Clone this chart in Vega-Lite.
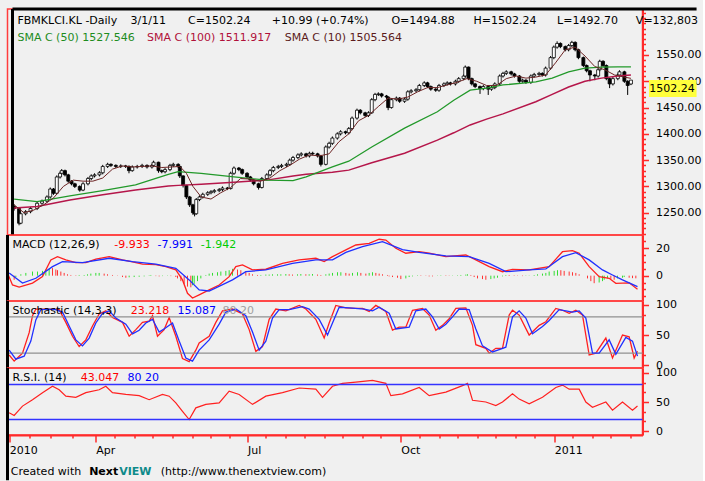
{
"$schema":"https://vega.github.io/schema/vega-lite/v6.json",
"background":"#f0f0f0",
"padding":{"left":4.5,"top":6,"right":0,"bottom":0},
"spacing":0,
"bounds":"flush",
"config":{
 "view":{"stroke":"#ff3c3c","strokeWidth":1.5},
 "text":{"font":"DejaVu Sans","fontSize":11,"align":"left","baseline":"middle"},
 "axis":{"labelFont":"DejaVu Sans","labelFontSize":11,"labelColor":"#000","domainColor":"#ff2a2a","tickColor":"#ff2a2a","domainWidth":2,"tickWidth":1.5,"grid":false,"title":null}
},
"datasets":{
"px":[
{"d":"2010-02-08","op":1262,"hi":1266,"lo":1254,"cl":1258,"hist":-2,"dir":"down"},
{"d":"2010-02-11","op":1258,"hi":1260,"lo":1226,"cl":1230,"hist":-3,"dir":"down"},
{"d":"2010-02-12","op":1230,"hi":1250,"lo":1228,"cl":1248,"hist":-1,"dir":"up"},
{"d":"2010-02-15","op":1248,"hi":1255,"lo":1245,"cl":1252,"hist":1,"dir":"up"},
{"d":"2010-02-18","op":1252,"hi":1261,"lo":1249,"cl":1258,"hist":2,"dir":"up"},
{"d":"2010-02-22","op":1258,"hi":1271,"lo":1255,"cl":1268,"hist":3,"dir":"up"},
{"d":"2010-02-25","op":1268,"hi":1275,"lo":1265,"cl":1272,"hist":3,"dir":"up"},
{"d":"2010-02-28","op":1272,"hi":1283,"lo":1269,"cl":1280,"hist":3.5,"dir":"up"},
{"d":"2010-03-02","op":1280,"hi":1298,"lo":1277,"cl":1295,"hist":4.5,"dir":"up"},
{"d":"2010-03-04","op":1295,"hi":1297,"lo":1284,"cl":1287,"hist":5,"dir":"up"},
{"d":"2010-03-06","op":1287,"hi":1321,"lo":1285,"cl":1318,"hist":5.5,"dir":"down"},
{"d":"2010-03-08","op":1318,"hi":1328,"lo":1315,"cl":1325,"hist":4.5,"dir":"down"},
{"d":"2010-03-09","op":1325,"hi":1333,"lo":1322,"cl":1330,"hist":4,"dir":"down"},
{"d":"2010-03-11","op":1330,"hi":1332,"lo":1319,"cl":1322,"hist":3,"dir":"down"},
{"d":"2010-03-13","op":1322,"hi":1324,"lo":1307,"cl":1310,"hist":2,"dir":"down"},
{"d":"2010-03-15","op":1310,"hi":1312,"lo":1302,"cl":1305,"hist":1,"dir":"down"},
{"d":"2010-03-17","op":1305,"hi":1307,"lo":1297,"cl":1300,"hist":0.5,"dir":"down"},
{"d":"2010-03-20","op":1300,"hi":1302,"lo":1290,"cl":1293,"hist":0.3,"dir":"down"},
{"d":"2010-03-22","op":1293,"hi":1308,"lo":1291,"cl":1305,"hist":0.5,"dir":"up"},
{"d":"2010-03-25","op":1305,"hi":1318,"lo":1302,"cl":1315,"hist":0.5,"dir":"up"},
{"d":"2010-03-27","op":1315,"hi":1323,"lo":1312,"cl":1320,"hist":1,"dir":"up"},
{"d":"2010-03-29","op":1320,"hi":1325,"lo":1317,"cl":1322,"hist":1.5,"dir":"up"},
{"d":"2010-04-01","op":1322,"hi":1329,"lo":1319,"cl":1326,"hist":2,"dir":"up"},
{"d":"2010-04-03","op":1326,"hi":1341,"lo":1323,"cl":1338,"hist":2,"dir":"up"},
{"d":"2010-04-06","op":1338,"hi":1345,"lo":1335,"cl":1342,"hist":1.5,"dir":"down"},
{"d":"2010-04-08","op":1342,"hi":1344,"lo":1337,"cl":1340,"hist":1,"dir":"down"},
{"d":"2010-04-11","op":1340,"hi":1342,"lo":1335,"cl":1338,"hist":0.5,"dir":"down"},
{"d":"2010-04-14","op":1338,"hi":1342,"lo":1335,"cl":1339,"hist":0.2,"dir":"down"},
{"d":"2010-04-17","op":1339,"hi":1341,"lo":1335,"cl":1338,"hist":-1,"dir":"down"},
{"d":"2010-04-19","op":1338,"hi":1340,"lo":1325,"cl":1330,"hist":-1.5,"dir":"down"},
{"d":"2010-04-21","op":1330,"hi":1340,"lo":1328,"cl":1337,"hist":-1.2,"dir":"up"},
{"d":"2010-04-24","op":1337,"hi":1341,"lo":1334,"cl":1338,"hist":-1,"dir":"up"},
{"d":"2010-04-27","op":1338,"hi":1343,"lo":1335,"cl":1340,"hist":-0.8,"dir":"up"},
{"d":"2010-04-30","op":1340,"hi":1342,"lo":1334,"cl":1337,"hist":-0.5,"dir":"up"},
{"d":"2010-05-03","op":1337,"hi":1343,"lo":1334,"cl":1340,"hist":0.3,"dir":"up"},
{"d":"2010-05-04","op":1340,"hi":1349,"lo":1337,"cl":1346,"hist":0.5,"dir":"up"},
{"d":"2010-05-07","op":1346,"hi":1347,"lo":1326,"cl":1330,"hist":-0.3,"dir":"down"},
{"d":"2010-05-09","op":1330,"hi":1332,"lo":1325,"cl":1328,"hist":-0.5,"dir":"down"},
{"d":"2010-05-11","op":1328,"hi":1335,"lo":1325,"cl":1332,"hist":-0.3,"dir":"up"},
{"d":"2010-05-14","op":1332,"hi":1343,"lo":1329,"cl":1340,"hist":-0.2,"dir":"up"},
{"d":"2010-05-16","op":1340,"hi":1345,"lo":1337,"cl":1342,"hist":-0.3,"dir":"down"},
{"d":"2010-05-19","op":1342,"hi":1344,"lo":1335,"cl":1338,"hist":-1,"dir":"down"},
{"d":"2010-05-20","op":1338,"hi":1339,"lo":1316,"cl":1320,"hist":-2,"dir":"down"},
{"d":"2010-05-22","op":1320,"hi":1321,"lo":1298,"cl":1302,"hist":-4,"dir":"down"},
{"d":"2010-05-24","op":1302,"hi":1303,"lo":1276,"cl":1280,"hist":-6,"dir":"down"},
{"d":"2010-05-26","op":1280,"hi":1282,"lo":1261,"cl":1265,"hist":-8,"dir":"down"},
{"d":"2010-05-28","op":1265,"hi":1267,"lo":1246,"cl":1250,"hist":-8.5,"dir":"down"},
{"d":"2010-05-29","op":1250,"hi":1252,"lo":1243,"cl":1248,"hist":-7,"dir":"up"},
{"d":"2010-05-30","op":1248,"hi":1278,"lo":1246,"cl":1275,"hist":-6,"dir":"up"},
{"d":"2010-06-01","op":1275,"hi":1283,"lo":1272,"cl":1280,"hist":-4,"dir":"up"},
{"d":"2010-06-03","op":1280,"hi":1288,"lo":1277,"cl":1285,"hist":-2,"dir":"up"},
{"d":"2010-06-06","op":1285,"hi":1291,"lo":1282,"cl":1288,"hist":0.5,"dir":"up"},
{"d":"2010-06-08","op":1288,"hi":1293,"lo":1285,"cl":1290,"hist":1.5,"dir":"up"},
{"d":"2010-06-10","op":1290,"hi":1295,"lo":1287,"cl":1292,"hist":2,"dir":"up"},
{"d":"2010-06-13","op":1292,"hi":1297,"lo":1289,"cl":1294,"hist":2.5,"dir":"up"},
{"d":"2010-06-15","op":1294,"hi":1300,"lo":1291,"cl":1297,"hist":3,"dir":"up"},
{"d":"2010-06-18","op":1297,"hi":1299,"lo":1293,"cl":1296,"hist":3.5,"dir":"up"},
{"d":"2010-06-20","op":1296,"hi":1328,"lo":1294,"cl":1325,"hist":4,"dir":"up"},
{"d":"2010-06-22","op":1325,"hi":1338,"lo":1322,"cl":1335,"hist":5,"dir":"up"},
{"d":"2010-06-25","op":1335,"hi":1337,"lo":1329,"cl":1332,"hist":4.5,"dir":"down"},
{"d":"2010-06-27","op":1332,"hi":1334,"lo":1322,"cl":1325,"hist":4,"dir":"down"},
{"d":"2010-06-30","op":1325,"hi":1327,"lo":1315,"cl":1318,"hist":3,"dir":"down"},
{"d":"2010-07-02","op":1318,"hi":1320,"lo":1309,"cl":1312,"hist":2,"dir":"down"},
{"d":"2010-07-04","op":1312,"hi":1314,"lo":1302,"cl":1305,"hist":1,"dir":"down"},
{"d":"2010-07-07","op":1305,"hi":1307,"lo":1294,"cl":1298,"hist":0.5,"dir":"down"},
{"d":"2010-07-09","op":1298,"hi":1318,"lo":1296,"cl":1315,"hist":0.5,"dir":"up"},
{"d":"2010-07-12","op":1315,"hi":1325,"lo":1312,"cl":1322,"hist":0.8,"dir":"up"},
{"d":"2010-07-14","op":1322,"hi":1333,"lo":1319,"cl":1330,"hist":0.8,"dir":"up"},
{"d":"2010-07-16","op":1330,"hi":1339,"lo":1327,"cl":1336,"hist":1,"dir":"up"},
{"d":"2010-07-19","op":1336,"hi":1341,"lo":1333,"cl":1338,"hist":1,"dir":"up"},
{"d":"2010-07-21","op":1338,"hi":1343,"lo":1335,"cl":1340,"hist":1,"dir":"up"},
{"d":"2010-07-24","op":1340,"hi":1345,"lo":1337,"cl":1342,"hist":1.2,"dir":"up"},
{"d":"2010-07-26","op":1342,"hi":1353,"lo":1339,"cl":1350,"hist":1,"dir":"down"},
{"d":"2010-07-28","op":1350,"hi":1358,"lo":1347,"cl":1355,"hist":0.8,"dir":"down"},
{"d":"2010-07-31","op":1355,"hi":1363,"lo":1352,"cl":1360,"hist":1,"dir":"up"},
{"d":"2010-08-02","op":1360,"hi":1365,"lo":1357,"cl":1362,"hist":1.2,"dir":"up"},
{"d":"2010-08-05","op":1362,"hi":1364,"lo":1355,"cl":1358,"hist":1,"dir":"down"},
{"d":"2010-08-07","op":1358,"hi":1366,"lo":1355,"cl":1363,"hist":1,"dir":"up"},
{"d":"2010-08-09","op":1363,"hi":1366,"lo":1359,"cl":1362,"hist":1.2,"dir":"up"},
{"d":"2010-08-12","op":1362,"hi":1364,"lo":1355,"cl":1358,"hist":0.8,"dir":"down"},
{"d":"2010-08-14","op":1358,"hi":1360,"lo":1338,"cl":1342,"hist":0.5,"dir":"down"},
{"d":"2010-08-17","op":1342,"hi":1378,"lo":1340,"cl":1375,"hist":1,"dir":"up"},
{"d":"2010-08-19","op":1375,"hi":1385,"lo":1372,"cl":1382,"hist":1.5,"dir":"up"},
{"d":"2010-08-21","op":1382,"hi":1395,"lo":1379,"cl":1392,"hist":2,"dir":"up"},
{"d":"2010-08-24","op":1392,"hi":1403,"lo":1389,"cl":1400,"hist":2.5,"dir":"up"},
{"d":"2010-08-26","op":1400,"hi":1407,"lo":1397,"cl":1404,"hist":2.5,"dir":"up"},
{"d":"2010-08-29","op":1404,"hi":1406,"lo":1399,"cl":1402,"hist":2,"dir":"down"},
{"d":"2010-08-31","op":1402,"hi":1413,"lo":1399,"cl":1410,"hist":1.5,"dir":"down"},
{"d":"2010-09-02","op":1410,"hi":1433,"lo":1407,"cl":1430,"hist":2,"dir":"up"},
{"d":"2010-09-05","op":1430,"hi":1448,"lo":1427,"cl":1445,"hist":2.5,"dir":"up"},
{"d":"2010-09-07","op":1445,"hi":1447,"lo":1437,"cl":1440,"hist":2,"dir":"down"},
{"d":"2010-09-10","op":1440,"hi":1442,"lo":1432,"cl":1435,"hist":1.5,"dir":"down"},
{"d":"2010-09-12","op":1435,"hi":1443,"lo":1432,"cl":1440,"hist":2,"dir":"up"},
{"d":"2010-09-14","op":1440,"hi":1468,"lo":1438,"cl":1465,"hist":2.5,"dir":"up"},
{"d":"2010-09-16","op":1465,"hi":1478,"lo":1462,"cl":1475,"hist":2,"dir":"down"},
{"d":"2010-09-18","op":1475,"hi":1479,"lo":1472,"cl":1476,"hist":1.5,"dir":"down"},
{"d":"2010-09-20","op":1476,"hi":1478,"lo":1469,"cl":1472,"hist":1,"dir":"down"},
{"d":"2010-09-23","op":1472,"hi":1474,"lo":1467,"cl":1470,"hist":0.5,"dir":"down"},
{"d":"2010-09-24","op":1470,"hi":1471,"lo":1445,"cl":1450,"hist":-0.5,"dir":"down"},
{"d":"2010-09-26","op":1450,"hi":1468,"lo":1448,"cl":1465,"hist":-1,"dir":"down"},
{"d":"2010-09-29","op":1465,"hi":1471,"lo":1462,"cl":1468,"hist":-1.5,"dir":"down"},
{"d":"2010-10-01","op":1468,"hi":1470,"lo":1459,"cl":1462,"hist":-2.5,"dir":"down"},
{"d":"2010-10-04","op":1462,"hi":1469,"lo":1459,"cl":1466,"hist":-2,"dir":"up"},
{"d":"2010-10-06","op":1466,"hi":1483,"lo":1463,"cl":1480,"hist":-1,"dir":"up"},
{"d":"2010-10-08","op":1480,"hi":1485,"lo":1477,"cl":1482,"hist":-0.5,"dir":"up"},
{"d":"2010-10-11","op":1482,"hi":1487,"lo":1479,"cl":1484,"hist":0.3,"dir":"up"},
{"d":"2010-10-13","op":1484,"hi":1495,"lo":1481,"cl":1492,"hist":0.3,"dir":"down"},
{"d":"2010-10-16","op":1492,"hi":1500,"lo":1489,"cl":1497,"hist":0.2,"dir":"down"},
{"d":"2010-10-18","op":1497,"hi":1499,"lo":1487,"cl":1490,"hist":-0.5,"dir":"down"},
{"d":"2010-10-20","op":1490,"hi":1492,"lo":1482,"cl":1485,"hist":-0.5,"dir":"down"},
{"d":"2010-10-23","op":1485,"hi":1487,"lo":1480,"cl":1483,"hist":0.2,"dir":"up"},
{"d":"2010-10-25","op":1483,"hi":1495,"lo":1480,"cl":1492,"hist":0.3,"dir":"up"},
{"d":"2010-10-28","op":1492,"hi":1498,"lo":1489,"cl":1495,"hist":0.3,"dir":"down"},
{"d":"2010-10-30","op":1495,"hi":1500,"lo":1492,"cl":1497,"hist":0.2,"dir":"down"},
{"d":"2010-11-01","op":1497,"hi":1499,"lo":1492,"cl":1495,"hist":0.2,"dir":"up"},
{"d":"2010-11-04","op":1495,"hi":1503,"lo":1492,"cl":1500,"hist":0.3,"dir":"up"},
{"d":"2010-11-06","op":1500,"hi":1508,"lo":1497,"cl":1505,"hist":0.5,"dir":"up"},
{"d":"2010-11-09","op":1505,"hi":1513,"lo":1502,"cl":1510,"hist":0.8,"dir":"up"},
{"d":"2010-11-10","op":1510,"hi":1530,"lo":1507,"cl":1527,"hist":1,"dir":"up"},
{"d":"2010-11-12","op":1527,"hi":1528,"lo":1502,"cl":1505,"hist":0.5,"dir":"down"},
{"d":"2010-11-14","op":1505,"hi":1507,"lo":1492,"cl":1495,"hist":-1,"dir":"down"},
{"d":"2010-11-16","op":1495,"hi":1497,"lo":1487,"cl":1490,"hist":-2,"dir":"down"},
{"d":"2010-11-19","op":1490,"hi":1492,"lo":1476,"cl":1486,"hist":-2.5,"dir":"down"},
{"d":"2010-11-21","op":1486,"hi":1493,"lo":1483,"cl":1490,"hist":-3,"dir":"down"},
{"d":"2010-11-24","op":1490,"hi":1492,"lo":1474,"cl":1485,"hist":-2.5,"dir":"up"},
{"d":"2010-11-26","op":1485,"hi":1491,"lo":1482,"cl":1488,"hist":-2,"dir":"up"},
{"d":"2010-11-28","op":1488,"hi":1498,"lo":1485,"cl":1495,"hist":-1.5,"dir":"up"},
{"d":"2010-12-01","op":1495,"hi":1513,"lo":1492,"cl":1510,"hist":-0.5,"dir":"up"},
{"d":"2010-12-03","op":1510,"hi":1518,"lo":1507,"cl":1515,"hist":0.5,"dir":"up"},
{"d":"2010-12-05","op":1515,"hi":1521,"lo":1512,"cl":1518,"hist":0.5,"dir":"down"},
{"d":"2010-12-08","op":1518,"hi":1520,"lo":1511,"cl":1514,"hist":0.3,"dir":"down"},
{"d":"2010-12-10","op":1514,"hi":1516,"lo":1507,"cl":1510,"hist":0.2,"dir":"down"},
{"d":"2010-12-13","op":1510,"hi":1512,"lo":1497,"cl":1500,"hist":-0.3,"dir":"down"},
{"d":"2010-12-15","op":1500,"hi":1505,"lo":1497,"cl":1502,"hist":-0.2,"dir":"up"},
{"d":"2010-12-17","op":1502,"hi":1504,"lo":1495,"cl":1498,"hist":0.2,"dir":"up"},
{"d":"2010-12-20","op":1498,"hi":1513,"lo":1495,"cl":1510,"hist":0.5,"dir":"up"},
{"d":"2010-12-22","op":1510,"hi":1516,"lo":1507,"cl":1513,"hist":1,"dir":"up"},
{"d":"2010-12-25","op":1513,"hi":1518,"lo":1510,"cl":1515,"hist":1.5,"dir":"up"},
{"d":"2010-12-27","op":1515,"hi":1517,"lo":1509,"cl":1512,"hist":2,"dir":"up"},
{"d":"2010-12-29","op":1512,"hi":1528,"lo":1509,"cl":1525,"hist":3,"dir":"up"},
{"d":"2011-01-01","op":1525,"hi":1548,"lo":1522,"cl":1545,"hist":3.5,"dir":"up"},
{"d":"2011-01-03","op":1545,"hi":1568,"lo":1542,"cl":1565,"hist":4,"dir":"up"},
{"d":"2011-01-05","op":1565,"hi":1576,"lo":1562,"cl":1572,"hist":4,"dir":"down"},
{"d":"2011-01-07","op":1572,"hi":1574,"lo":1563,"cl":1566,"hist":3.5,"dir":"down"},
{"d":"2011-01-10","op":1566,"hi":1568,"lo":1557,"cl":1560,"hist":3,"dir":"down"},
{"d":"2011-01-12","op":1560,"hi":1571,"lo":1557,"cl":1568,"hist":2.5,"dir":"down"},
{"d":"2011-01-14","op":1568,"hi":1577,"lo":1565,"cl":1574,"hist":2,"dir":"down"},
{"d":"2011-01-16","op":1574,"hi":1576,"lo":1557,"cl":1560,"hist":1,"dir":"down"},
{"d":"2011-01-18","op":1560,"hi":1562,"lo":1542,"cl":1545,"hist":0,"dir":"down"},
{"d":"2011-01-21","op":1545,"hi":1547,"lo":1527,"cl":1530,"hist":-2,"dir":"down"},
{"d":"2011-01-23","op":1530,"hi":1532,"lo":1517,"cl":1520,"hist":-4,"dir":"down"},
{"d":"2011-01-25","op":1520,"hi":1522,"lo":1500,"cl":1512,"hist":-5.5,"dir":"down"},
{"d":"2011-01-28","op":1512,"hi":1514,"lo":1502,"cl":1510,"hist":-5,"dir":"up"},
{"d":"2011-01-30","op":1510,"hi":1525,"lo":1507,"cl":1522,"hist":-4,"dir":"up"},
{"d":"2011-01-31","op":1522,"hi":1541,"lo":1519,"cl":1538,"hist":-3,"dir":"up"},
{"d":"2011-02-02","op":1538,"hi":1540,"lo":1527,"cl":1530,"hist":-2,"dir":"up"},
{"d":"2011-02-04","op":1530,"hi":1532,"lo":1502,"cl":1505,"hist":-2.5,"dir":"down"},
{"d":"2011-02-06","op":1505,"hi":1507,"lo":1487,"cl":1495,"hist":-3,"dir":"down"},
{"d":"2011-02-08","op":1495,"hi":1508,"lo":1492,"cl":1505,"hist":-2,"dir":"up"},
{"d":"2011-02-11","op":1505,"hi":1515,"lo":1502,"cl":1512,"hist":-1.5,"dir":"up"},
{"d":"2011-02-12","op":1512,"hi":1521,"lo":1509,"cl":1518,"hist":-1,"dir":"up"},
{"d":"2011-02-15","op":1518,"hi":1520,"lo":1497,"cl":1500,"hist":-1.5,"dir":"down"},
{"d":"2011-02-17","op":1500,"hi":1502,"lo":1474,"cl":1492,"hist":-1.8,"dir":"down"},
{"d":"2011-02-19","op":1494.88,"hi":1502.24,"lo":1492.7,"cl":1502.24,"hist":-1.94,"dir":"down"}
],
"sma10":[
{"d":"2010-02-08","v":1265},{"d":"2010-02-14","v":1250},{"d":"2010-02-20","v":1255},{"d":"2010-02-26","v":1265},{"d":"2010-03-04","v":1278},{"d":"2010-03-10","v":1300},{"d":"2010-03-16","v":1312},{"d":"2010-03-22","v":1310},{"d":"2010-03-28","v":1310},{"d":"2010-04-03","v":1316},{"d":"2010-04-09","v":1333},{"d":"2010-04-15","v":1339},{"d":"2010-04-21","v":1337},{"d":"2010-04-27","v":1338},{"d":"2010-05-03","v":1339},{"d":"2010-05-09","v":1336},{"d":"2010-05-15","v":1337},{"d":"2010-05-20","v":1338},{"d":"2010-05-24","v":1325},{"d":"2010-05-28","v":1300},{"d":"2010-06-02","v":1280},{"d":"2010-06-08","v":1276},{"d":"2010-06-14","v":1288},{"d":"2010-06-20","v":1298},{"d":"2010-06-26","v":1315},{"d":"2010-07-02","v":1314},{"d":"2010-07-08","v":1310},{"d":"2010-07-14","v":1316},{"d":"2010-07-20","v":1330},{"d":"2010-07-26","v":1340},{"d":"2010-08-01","v":1352},{"d":"2010-08-07","v":1360},{"d":"2010-08-13","v":1358},{"d":"2010-08-19","v":1362},{"d":"2010-08-25","v":1385},{"d":"2010-08-31","v":1400},{"d":"2010-09-06","v":1425},{"d":"2010-09-12","v":1435},{"d":"2010-09-18","v":1452},{"d":"2010-09-24","v":1468},{"d":"2010-09-30","v":1466},{"d":"2010-10-06","v":1470},{"d":"2010-10-12","v":1480},{"d":"2010-10-18","v":1488},{"d":"2010-10-24","v":1488},{"d":"2010-10-30","v":1493},{"d":"2010-11-05","v":1498},{"d":"2010-11-11","v":1505},{"d":"2010-11-17","v":1500},{"d":"2010-11-23","v":1492},{"d":"2010-11-29","v":1492},{"d":"2010-12-05","v":1505},{"d":"2010-12-11","v":1510},{"d":"2010-12-17","v":1506},{"d":"2010-12-23","v":1508},{"d":"2010-12-29","v":1512},{"d":"2011-01-04","v":1535},{"d":"2011-01-10","v":1560},{"d":"2011-01-16","v":1565},{"d":"2011-01-22","v":1548},{"d":"2011-01-28","v":1528},{"d":"2011-02-03","v":1522},{"d":"2011-02-09","v":1512},{"d":"2011-02-15","v":1508},{"d":"2011-02-19","v":1505.564}
],
"sma50":[
{"d":"2010-02-08","v":1276},{"d":"2010-02-22","v":1271},{"d":"2010-03-14","v":1282},{"d":"2010-04-03","v":1292},{"d":"2010-04-23","v":1303},{"d":"2010-05-13","v":1323},{"d":"2010-05-19","v":1328},{"d":"2010-06-02","v":1325},{"d":"2010-06-22","v":1318},{"d":"2010-07-12","v":1312},{"d":"2010-07-28","v":1311},{"d":"2010-08-05","v":1318},{"d":"2010-08-21","v":1337},{"d":"2010-08-31","v":1348},{"d":"2010-09-14","v":1375},{"d":"2010-10-04","v":1411},{"d":"2010-10-24","v":1442},{"d":"2010-11-03","v":1464},{"d":"2010-11-13","v":1483},{"d":"2010-11-23","v":1487},{"d":"2010-12-03","v":1493},{"d":"2010-12-23","v":1499},{"d":"2011-01-02","v":1506},{"d":"2011-01-12","v":1518},{"d":"2011-01-22","v":1525},{"d":"2011-02-01","v":1527},{"d":"2011-02-11","v":1527.5},{"d":"2011-02-19","v":1527.546}
],
"sma100":[
{"d":"2010-02-08","v":1259},{"d":"2010-02-22","v":1262},{"d":"2010-03-14","v":1274},{"d":"2010-04-03","v":1284},{"d":"2010-04-23","v":1293},{"d":"2010-05-13","v":1301},{"d":"2010-05-19","v":1302},{"d":"2010-06-02","v":1304},{"d":"2010-06-22","v":1308},{"d":"2010-07-12","v":1312},{"d":"2010-07-28","v":1320},{"d":"2010-08-05","v":1323},{"d":"2010-08-21","v":1327},{"d":"2010-08-31","v":1331},{"d":"2010-09-14","v":1345},{"d":"2010-10-04","v":1363},{"d":"2010-10-24","v":1388},{"d":"2010-11-03","v":1402},{"d":"2010-11-13","v":1417},{"d":"2010-11-23","v":1428},{"d":"2010-12-03","v":1438},{"d":"2010-12-23","v":1461},{"d":"2011-01-02","v":1475},{"d":"2011-01-12","v":1489},{"d":"2011-01-22","v":1500},{"d":"2011-02-01","v":1506},{"d":"2011-02-11","v":1510},{"d":"2011-02-19","v":1511.917}
],
"macd":[
{"d":"2010-02-08","v":-1},{"d":"2010-02-10","v":-6.8},{"d":"2010-02-14","v":-8.3},{"d":"2010-02-22","v":-5.4},{"d":"2010-02-28","v":-0.7},{"d":"2010-03-05","v":11.5},{"d":"2010-03-09","v":13.9},{"d":"2010-03-14","v":11.5},{"d":"2010-03-20","v":9.5},{"d":"2010-03-26","v":9.5},{"d":"2010-04-01","v":12},{"d":"2010-04-09","v":13.9},{"d":"2010-04-17","v":11.5},{"d":"2010-04-23","v":10},{"d":"2010-04-29","v":8.5},{"d":"2010-05-07","v":8.1},{"d":"2010-05-13","v":6.6},{"d":"2010-05-19","v":4.2},{"d":"2010-05-23","v":-3.1},{"d":"2010-05-26","v":-12.9},{"d":"2010-05-29","v":-16.3},{"d":"2010-06-02","v":-14},{"d":"2010-06-08","v":-10.4},{"d":"2010-06-14","v":-6.8},{"d":"2010-06-20","v":-0.7},{"d":"2010-06-24","v":6.6},{"d":"2010-06-28","v":7.8},{"d":"2010-07-04","v":4.2},{"d":"2010-07-12","v":4.7},{"d":"2010-07-22","v":9},{"d":"2010-08-01","v":11.5},{"d":"2010-08-11","v":12.7},{"d":"2010-08-16","v":10.3},{"d":"2010-08-21","v":13.9},{"d":"2010-08-29","v":18.8},{"d":"2010-09-04","v":22.4},{"d":"2010-09-12","v":23.6},{"d":"2010-09-18","v":26.6},{"d":"2010-09-22","v":26},{"d":"2010-09-28","v":20},{"d":"2010-10-04","v":16.4},{"d":"2010-10-12","v":17.6},{"d":"2010-10-18","v":16.4},{"d":"2010-10-28","v":13.9},{"d":"2010-11-09","v":15.1},{"d":"2010-11-15","v":11.5},{"d":"2010-11-23","v":6.6},{"d":"2010-12-01","v":2.9},{"d":"2010-12-07","v":4.6},{"d":"2010-12-17","v":4.2},{"d":"2010-12-29","v":6.6},{"d":"2011-01-06","v":17.5},{"d":"2011-01-12","v":18.3},{"d":"2011-01-16","v":16.4},{"d":"2011-01-22","v":6.6},{"d":"2011-01-28","v":-0.7},{"d":"2011-02-03","v":-1.9},{"d":"2011-02-07","v":-5.6},{"d":"2011-02-15","v":-5.2},{"d":"2011-02-20","v":-9.933}
],
"signal":[
{"d":"2010-02-08","v":2},{"d":"2010-02-16","v":-5.4},{"d":"2010-02-24","v":-1.9},{"d":"2010-03-06","v":6.6},{"d":"2010-03-12","v":10.2},{"d":"2010-03-24","v":9.5},{"d":"2010-04-09","v":12.7},{"d":"2010-04-23","v":10.3},{"d":"2010-05-07","v":8.5},{"d":"2010-05-19","v":5.4},{"d":"2010-05-27","v":-3.1},{"d":"2010-06-02","v":-10.4},{"d":"2010-06-08","v":-11.2},{"d":"2010-06-22","v":-3.1},{"d":"2010-06-30","v":2.9},{"d":"2010-07-12","v":4.2},{"d":"2010-07-28","v":9},{"d":"2010-08-11","v":11.5},{"d":"2010-08-21","v":11.5},{"d":"2010-08-29","v":17},{"d":"2010-09-08","v":21.2},{"d":"2010-09-20","v":24.8},{"d":"2010-10-02","v":19},{"d":"2010-10-12","v":17},{"d":"2010-10-28","v":14.4},{"d":"2010-11-11","v":13.9},{"d":"2010-11-23","v":9},{"d":"2010-12-03","v":2.9},{"d":"2010-12-17","v":4.2},{"d":"2010-12-27","v":4.9},{"d":"2011-01-06","v":13.9},{"d":"2011-01-14","v":16.8},{"d":"2011-01-22","v":11.5},{"d":"2011-01-30","v":4.2},{"d":"2011-02-05","v":0.5},{"d":"2011-02-11","v":-3.1},{"d":"2011-02-20","v":-7.991}
],
"stk":[
{"d":"2010-02-08","v":17},{"d":"2010-02-11","v":7},{"d":"2010-02-16","v":20},{"d":"2010-02-20","v":54},{"d":"2010-02-22","v":82},{"d":"2010-02-24","v":93},{"d":"2010-03-04","v":93},{"d":"2010-03-10","v":92},{"d":"2010-03-14","v":71},{"d":"2010-03-18","v":48},{"d":"2010-03-22","v":31},{"d":"2010-03-26","v":42},{"d":"2010-03-30","v":65},{"d":"2010-04-03","v":85},{"d":"2010-04-07","v":90},{"d":"2010-04-11","v":79},{"d":"2010-04-17","v":71},{"d":"2010-04-21","v":48},{"d":"2010-04-25","v":59},{"d":"2010-04-29","v":71},{"d":"2010-05-03","v":73},{"d":"2010-05-05","v":82},{"d":"2010-05-08","v":48},{"d":"2010-05-12","v":59},{"d":"2010-05-15","v":79},{"d":"2010-05-19","v":48},{"d":"2010-05-23","v":11},{"d":"2010-05-27","v":6},{"d":"2010-05-31","v":25},{"d":"2010-06-02","v":37},{"d":"2010-06-08","v":48},{"d":"2010-06-12","v":71},{"d":"2010-06-16","v":90},{"d":"2010-06-22","v":93},{"d":"2010-06-28","v":85},{"d":"2010-07-02","v":59},{"d":"2010-07-06","v":23},{"d":"2010-07-10","v":31},{"d":"2010-07-14","v":76},{"d":"2010-07-18","v":93},{"d":"2010-07-24","v":90},{"d":"2010-08-01","v":99},{"d":"2010-08-05","v":93},{"d":"2010-08-11","v":76},{"d":"2010-08-16","v":45},{"d":"2010-08-19","v":70},{"d":"2010-08-23","v":99},{"d":"2010-08-29","v":95},{"d":"2010-09-04","v":94},{"d":"2010-09-08","v":94},{"d":"2010-09-12","v":89},{"d":"2010-09-16","v":99},{"d":"2010-09-22","v":89},{"d":"2010-09-26","v":58},{"d":"2010-09-30","v":63},{"d":"2010-10-04","v":63},{"d":"2010-10-08","v":91},{"d":"2010-10-14","v":94},{"d":"2010-10-18","v":83},{"d":"2010-10-22","v":58},{"d":"2010-10-26","v":66},{"d":"2010-10-30","v":77},{"d":"2010-11-03","v":94},{"d":"2010-11-09","v":95},{"d":"2010-11-13","v":66},{"d":"2010-11-15","v":34},{"d":"2010-11-21","v":28},{"d":"2010-11-23","v":20},{"d":"2010-11-27","v":28},{"d":"2010-12-01","v":28},{"d":"2010-12-05","v":83},{"d":"2010-12-07","v":91},{"d":"2010-12-11","v":83},{"d":"2010-12-17","v":50},{"d":"2010-12-23","v":66},{"d":"2010-12-27","v":72},{"d":"2011-01-02","v":94},{"d":"2011-01-06","v":91},{"d":"2011-01-10","v":86},{"d":"2011-01-14","v":91},{"d":"2011-01-18","v":83},{"d":"2011-01-22","v":17},{"d":"2011-01-26","v":20},{"d":"2011-02-01","v":45},{"d":"2011-02-05","v":12},{"d":"2011-02-11","v":50},{"d":"2011-02-15","v":47},{"d":"2011-02-18","v":12},{"d":"2011-02-20","v":23.218}
],
"std":[
{"d":"2010-02-08","v":25},{"d":"2010-02-12","v":10},{"d":"2010-02-17","v":15},{"d":"2010-02-21","v":40},{"d":"2010-02-24","v":75},{"d":"2010-02-27","v":92},{"d":"2010-03-07","v":93},{"d":"2010-03-12","v":88},{"d":"2010-03-16","v":65},{"d":"2010-03-20","v":42},{"d":"2010-03-24","v":32},{"d":"2010-03-28","v":45},{"d":"2010-04-01","v":70},{"d":"2010-04-05","v":86},{"d":"2010-04-09","v":90},{"d":"2010-04-13","v":78},{"d":"2010-04-19","v":68},{"d":"2010-04-23","v":52},{"d":"2010-04-27","v":58},{"d":"2010-05-01","v":70},{"d":"2010-05-05","v":76},{"d":"2010-05-09","v":55},{"d":"2010-05-13","v":62},{"d":"2010-05-17","v":70},{"d":"2010-05-21","v":40},{"d":"2010-05-25","v":12},{"d":"2010-05-29","v":7},{"d":"2010-06-02","v":25},{"d":"2010-06-08","v":42},{"d":"2010-06-14","v":68},{"d":"2010-06-18","v":88},{"d":"2010-06-24","v":93},{"d":"2010-06-30","v":82},{"d":"2010-07-04","v":55},{"d":"2010-07-08","v":25},{"d":"2010-07-12","v":40},{"d":"2010-07-16","v":78},{"d":"2010-07-20","v":92},{"d":"2010-07-26","v":92},{"d":"2010-08-03","v":97},{"d":"2010-08-07","v":93},{"d":"2010-08-13","v":76},{"d":"2010-08-18","v":50},{"d":"2010-08-21","v":70},{"d":"2010-08-25","v":96},{"d":"2010-08-31","v":95},{"d":"2010-09-09","v":93},{"d":"2010-09-14","v":90},{"d":"2010-09-18","v":96},{"d":"2010-09-24","v":86},{"d":"2010-09-28","v":60},{"d":"2010-10-06","v":63},{"d":"2010-10-10","v":90},{"d":"2010-10-16","v":93},{"d":"2010-10-20","v":80},{"d":"2010-10-24","v":60},{"d":"2010-10-28","v":68},{"d":"2010-11-01","v":80},{"d":"2010-11-05","v":93},{"d":"2010-11-11","v":92},{"d":"2010-11-15","v":60},{"d":"2010-11-19","v":32},{"d":"2010-11-25","v":22},{"d":"2010-11-29","v":26},{"d":"2010-12-03","v":30},{"d":"2010-12-07","v":80},{"d":"2010-12-11","v":90},{"d":"2010-12-15","v":78},{"d":"2010-12-19","v":52},{"d":"2010-12-25","v":64},{"d":"2010-12-29","v":74},{"d":"2011-01-04","v":92},{"d":"2011-01-08","v":90},{"d":"2011-01-12","v":88},{"d":"2011-01-16","v":90},{"d":"2011-01-20","v":78},{"d":"2011-01-24","v":20},{"d":"2011-01-28","v":20},{"d":"2011-02-03","v":42},{"d":"2011-02-07","v":18},{"d":"2011-02-13","v":46},{"d":"2011-02-17","v":40},{"d":"2011-02-20","v":15.087}
],
"rsi":[
{"d":"2010-02-08","v":31.5},{"d":"2010-02-11","v":27},{"d":"2010-02-16","v":43},{"d":"2010-02-22","v":54},{"d":"2010-02-28","v":66},{"d":"2010-03-06","v":77},{"d":"2010-03-10","v":71},{"d":"2010-03-14","v":60},{"d":"2010-03-20","v":58},{"d":"2010-03-26","v":66},{"d":"2010-04-03","v":71},{"d":"2010-04-07","v":77},{"d":"2010-04-11","v":66},{"d":"2010-04-19","v":63},{"d":"2010-04-27","v":61},{"d":"2010-05-03","v":54},{"d":"2010-05-11","v":63},{"d":"2010-05-15","v":60},{"d":"2010-05-19","v":48.6},{"d":"2010-05-23","v":34},{"d":"2010-05-27","v":20},{"d":"2010-05-31","v":40},{"d":"2010-06-06","v":46},{"d":"2010-06-14","v":48.6},{"d":"2010-06-20","v":68.5},{"d":"2010-06-26","v":63},{"d":"2010-07-04","v":46},{"d":"2010-07-12","v":60},{"d":"2010-07-22","v":66},{"d":"2010-08-01","v":74},{"d":"2010-08-11","v":72},{"d":"2010-08-15","v":58},{"d":"2010-08-21","v":77},{"d":"2010-08-27","v":82},{"d":"2010-09-04","v":84},{"d":"2010-09-14","v":87},{"d":"2010-09-22","v":82},{"d":"2010-09-25","v":61},{"d":"2010-10-02","v":64},{"d":"2010-10-12","v":75},{"d":"2010-10-18","v":61},{"d":"2010-10-28","v":67},{"d":"2010-11-07","v":78},{"d":"2010-11-10","v":82},{"d":"2010-11-13","v":53},{"d":"2010-11-21","v":50},{"d":"2010-11-27","v":44},{"d":"2010-12-01","v":50},{"d":"2010-12-07","v":64},{"d":"2010-12-11","v":55},{"d":"2010-12-17","v":47},{"d":"2010-12-25","v":58},{"d":"2011-01-02","v":75},{"d":"2011-01-06","v":79},{"d":"2011-01-10","v":72},{"d":"2011-01-16","v":72},{"d":"2011-01-20","v":50},{"d":"2011-01-24","v":41},{"d":"2011-02-01","v":50},{"d":"2011-02-05","v":36},{"d":"2011-02-11","v":50},{"d":"2011-02-17","v":36},{"d":"2011-02-20","v":43.047}
]
},
"vconcat":[
{
 "width":635,"height":226,
 "resolve":{"axis":{"y":"independent"}},
 "layer":[
  {"data":{"name":"px"},"mark":{"type":"rule","color":"#000","strokeWidth":1},
   "encoding":{"x":{"field":"d","type":"temporal","scale":{"type":"utc","domain":[{"year":2010,"month":2,"date":7,"utc":true},{"year":2011,"month":2,"date":23,"utc":true}]},"axis":null},
    "y":{"field":"lo","type":"quantitative","scale":{"domain":[1207.6,1637.5],"nice":false,"zero":false},
     "axis":{"orient":"right","values":[1250,1300,1350,1400,1450,1500,1550],"format":".2f","tickSize":6,"labelPadding":7}},
    "y2":{"field":"hi"}}},
  {"data":{"name":"px"},"mark":{"type":"bar","width":3,"stroke":"#000","strokeWidth":0.8},
   "encoding":{"x":{"field":"d","type":"temporal","axis":null},
    "y":{"field":"op","type":"quantitative","axis":{"orient":"right","values":[1210,1220,1230,1240,1260,1270,1280,1290,1310,1320,1330,1340,1360,1370,1380,1390,1410,1420,1430,1440,1460,1470,1480,1490,1510,1520,1530,1540,1560,1570,1580,1590,1600,1610,1620,1630],"labels":false,"domain":false,"tickSize":3}},
    "y2":{"field":"cl"},
    "fill":{"condition":{"test":"datum.cl < datum.op","value":"#000"},"value":"#ffffff"}}},
  {"data":{"name":"sma100"},"mark":{"type":"line","color":"#b5164a","strokeWidth":1.5},"encoding":{"x":{"field":"d","type":"temporal","axis":null},"y":{"field":"v","type":"quantitative","axis":null}}},
  {"data":{"name":"sma50"},"mark":{"type":"line","color":"#22992a","strokeWidth":1.3},"encoding":{"x":{"field":"d","type":"temporal","axis":null},"y":{"field":"v","type":"quantitative","axis":null}}},
  {"data":{"name":"sma10"},"mark":{"type":"line","color":"#6e2626","strokeWidth":1},"encoding":{"x":{"field":"d","type":"temporal","axis":null},"y":{"field":"v","type":"quantitative","axis":null}}},
  {"data":{"values":[{}]},"mark":{"type":"text","text":"FBMKLCI.KL -Daily","color":"#000"},"encoding":{"x":{"datum":{"year":2010,"month":2,"date":10,"utc":true},"axis":null},"y":{"datum":1614.7,"axis":null}}},
  {"data":{"values":[{}]},"mark":{"type":"text","text":"3/1/11","color":"#000"},"encoding":{"x":{"datum":{"year":2010,"month":4,"date":20,"utc":true},"axis":null},"y":{"datum":1614.7,"axis":null}}},
  {"data":{"values":[{}]},"mark":{"type":"text","text":"C=1502.24","color":"#000"},"encoding":{"x":{"datum":{"year":2010,"month":5,"date":25,"utc":true},"axis":null},"y":{"datum":1614.7,"axis":null}}},
  {"data":{"values":[{}]},"mark":{"type":"text","text":"+10.99 (+0.74%)","color":"#000"},"encoding":{"x":{"datum":{"year":2010,"month":7,"date":15,"utc":true},"axis":null},"y":{"datum":1614.7,"axis":null}}},
  {"data":{"values":[{}]},"mark":{"type":"text","text":"O=1494.88","color":"#000"},"encoding":{"x":{"datum":{"year":2010,"month":9,"date":26,"utc":true},"axis":null},"y":{"datum":1614.7,"axis":null}}},
  {"data":{"values":[{}]},"mark":{"type":"text","text":"H=1502.24","color":"#000"},"encoding":{"x":{"datum":{"year":2010,"month":11,"date":15,"utc":true},"axis":null},"y":{"datum":1614.7,"axis":null}}},
  {"data":{"values":[{}]},"mark":{"type":"text","text":"L=1492.70","color":"#000"},"encoding":{"x":{"datum":{"year":2011,"month":1,"date":5,"utc":true},"axis":null},"y":{"datum":1614.7,"axis":null}}},
  {"data":{"values":[{}]},"mark":{"type":"text","text":"V=132,803","color":"#000"},"encoding":{"x":{"datum":{"year":2011,"month":2,"date":22,"utc":true},"axis":null},"y":{"datum":1614.7,"axis":null}}},
  {"data":{"values":[{}]},"mark":{"type":"text","text":"SMA C (50) 1527.546","color":"#1e8c1e"},"encoding":{"x":{"datum":{"year":2010,"month":2,"date":10,"utc":true},"axis":null},"y":{"datum":1582.3,"axis":null}}},
  {"data":{"values":[{}]},"mark":{"type":"text","text":"SMA C (100) 1511.917","color":"#b0103a"},"encoding":{"x":{"datum":{"year":2010,"month":4,"date":30,"utc":true},"axis":null},"y":{"datum":1582.3,"axis":null}}},
  {"data":{"values":[{}]},"mark":{"type":"text","text":"SMA C (10) 1505.564","color":"#5c1c1c"},"encoding":{"x":{"datum":{"year":2010,"month":7,"date":23,"utc":true},"axis":null},"y":{"datum":1582.3,"axis":null}}},
  {"data":{"values":[{}]},"mark":{"type":"rect","fill":"#ffff3c"},"encoding":{"x":{"datum":{"year":2011,"month":3,"date":2,"utc":true},"axis":null},"x2":{"datum":{"year":2011,"month":3,"date":31,"utc":true}},"y":{"datum":1502.5,"axis":null},"y2":{"datum":1470}}},
  {"data":{"values":[{}]},"mark":{"type":"text","text":"1502.24","color":"#000","align":"center"},"encoding":{"x":{"datum":{"year":2011,"month":3,"date":16,"utc":true},"axis":null},"y":{"datum":1486,"axis":null}}},
  {"data":{"values":[{}]},"mark":{"type":"rule","color":"#000","strokeWidth":3},"encoding":{"x":{"datum":{"year":2010,"month":2,"date":7,"utc":true},"axis":null}}},
  {"data":{"values":[{}]},"mark":{"type":"rule","color":"#000","strokeWidth":3},"encoding":{"y":{"datum":1637.5,"axis":null},"x":{"datum":{"year":2010,"month":2,"date":7,"utc":true},"axis":null},"x2":{"datum":{"year":2011,"month":3,"date":31,"utc":true}}}}
 ]
},
{
 "width":635,"height":66,
 "resolve":{"axis":{"y":"independent"}},
 "layer":[
  {"data":{"name":"px"},"mark":{"type":"rule","strokeWidth":1},
   "encoding":{"x":{"field":"d","type":"temporal","scale":{"type":"utc","domain":[{"year":2010,"month":2,"date":7,"utc":true},{"year":2011,"month":2,"date":23,"utc":true}]},"axis":null},
    "y":{"field":"hist","type":"quantitative","scale":{"domain":[-18.5,29.7],"nice":false,"zero":false},
     "axis":{"orient":"right","values":[0,20],"tickSize":6,"labelPadding":7}},
    "y2":{"datum":0},
    "color":{"field":"dir","type":"nominal","scale":{"domain":["up","down"],"range":["#33dd33","#ff3333"]},"legend":null}}},
  {"data":{"name":"macd"},"mark":{"type":"line","color":"#ff2020","strokeWidth":1.3},"encoding":{"x":{"field":"d","type":"temporal","axis":null},"y":{"field":"v","type":"quantitative","axis":{"orient":"right","values":[-15,-10,-5,5,10,15,25],"labels":false,"domain":false,"tickSize":3}}}},
  {"data":{"name":"signal"},"mark":{"type":"line","color":"#2030ff","strokeWidth":1.3},"encoding":{"x":{"field":"d","type":"temporal","axis":null},"y":{"field":"v","type":"quantitative","axis":null}}},
  {"data":{"values":[{}]},"mark":{"type":"text","text":"MACD (12,26,9)","color":"#000"},"encoding":{"x":{"datum":{"year":2010,"month":2,"date":10,"utc":true},"axis":null},"y":{"datum":22.4,"axis":null}}},
  {"data":{"values":[{}]},"mark":{"type":"text","text":"-9.933","color":"#ff0000"},"encoding":{"x":{"datum":{"year":2010,"month":4,"date":12,"utc":true},"axis":null},"y":{"datum":22.4,"axis":null}}},
  {"data":{"values":[{}]},"mark":{"type":"text","text":"-7.991","color":"#0000ff"},"encoding":{"x":{"datum":{"year":2010,"month":5,"date":8,"utc":true},"axis":null},"y":{"datum":22.4,"axis":null}}},
  {"data":{"values":[{}]},"mark":{"type":"text","text":"-1.942","color":"#00cc00"},"encoding":{"x":{"datum":{"year":2010,"month":6,"date":3,"utc":true},"axis":null},"y":{"datum":22.4,"axis":null}}},
  {"data":{"values":[{}]},"mark":{"type":"rule","color":"#000","strokeWidth":3},"encoding":{"x":{"datum":{"year":2010,"month":2,"date":7,"utc":true},"axis":null}}}
 ]
},
{
 "width":635,"height":67,
 "resolve":{"axis":{"y":"independent"}},
 "layer":[
  {"data":{"name":"stk"},"mark":{"type":"line","color":"#ff2020","strokeWidth":1.3},
   "encoding":{"x":{"field":"d","type":"temporal","scale":{"type":"utc","domain":[{"year":2010,"month":2,"date":7,"utc":true},{"year":2011,"month":2,"date":23,"utc":true}]},"axis":null},
    "y":{"field":"v","type":"quantitative","scale":{"domain":[-4.5,106.3],"nice":false,"zero":false},
     "axis":{"orient":"right","values":[0,50,100],"tickSize":6,"labelPadding":7}}}},
  {"data":{"values":[{}]},"mark":{"type":"rule","color":"#909090","strokeWidth":1.2},"encoding":{"y":{"datum":80,"axis":{"orient":"right","values":[16.67,33.33,66.67,83.33],"labels":false,"domain":false,"tickSize":3}}}},
  {"data":{"values":[{}]},"mark":{"type":"rule","color":"#909090","strokeWidth":1.2},"encoding":{"y":{"datum":20,"axis":null}}},
  {"data":{"name":"std"},"mark":{"type":"line","color":"#2030ff","strokeWidth":1.3},"encoding":{"x":{"field":"d","type":"temporal","axis":null},"y":{"field":"v","type":"quantitative","axis":null}}},
  {"data":{"values":[{}]},"mark":{"type":"text","text":"Stochastic (14,3,3)","color":"#000"},"encoding":{"x":{"datum":{"year":2010,"month":2,"date":10,"utc":true},"axis":null},"y":{"datum":89,"axis":null}}},
  {"data":{"values":[{}]},"mark":{"type":"text","text":"23.218","color":"#ff0000"},"encoding":{"x":{"datum":{"year":2010,"month":4,"date":22,"utc":true},"axis":null},"y":{"datum":89,"axis":null}}},
  {"data":{"values":[{}]},"mark":{"type":"text","text":"15.087","color":"#0000ff"},"encoding":{"x":{"datum":{"year":2010,"month":5,"date":20,"utc":true},"axis":null},"y":{"datum":89,"axis":null}}},
  {"data":{"values":[{}]},"mark":{"type":"text","text":"80 20","color":"#a0a0a0"},"encoding":{"x":{"datum":{"year":2010,"month":6,"date":16,"utc":true},"axis":null},"y":{"datum":89,"axis":null}}},
  {"data":{"values":[{}]},"mark":{"type":"rule","color":"#000","strokeWidth":3},"encoding":{"x":{"datum":{"year":2010,"month":2,"date":7,"utc":true},"axis":null}}}
 ]
},
{
 "width":635,"height":67,
 "resolve":{"axis":{"x":"independent","y":"independent"}},
 "layer":[
  {"data":{"name":"rsi"},"mark":{"type":"line","color":"#ff2020","strokeWidth":1.2},
   "encoding":{"x":{"field":"d","type":"temporal","scale":{"type":"utc","domain":[{"year":2010,"month":2,"date":7,"utc":true},{"year":2011,"month":2,"date":23,"utc":true}]},
    "axis":{"orient":"bottom","values":[{"year":2010,"month":2,"date":8,"utc":true},{"year":2010,"month":4,"date":1,"utc":true},{"year":2010,"month":7,"date":1,"utc":true},{"year":2010,"month":10,"date":1,"utc":true},{"year":2011,"month":1,"date":1,"utc":true}],
     "labelExpr":"utcmonth(datum.value) === 1 ? '2010' : (utcmonth(datum.value) === 0 ? utcFormat(datum.value, '%Y') : utcFormat(datum.value, '%b'))",
     "tickSize":7,"labelAlign":"left","labelBaseline":"top","labelPadding":2,"labelFlush":false}},
    "y":{"field":"v","type":"quantitative","scale":{"domain":[-6.5,108.3],"nice":false,"zero":false},
     "axis":{"orient":"right","values":[0,50,100],"tickSize":6,"labelPadding":7}}}},
  {"data":{"values":[{}]},"mark":{"type":"rule","color":"#3333ff","strokeWidth":1.5},"encoding":{"y":{"datum":80,"axis":{"orient":"right","values":[16.67,33.33,66.67,83.33],"labels":false,"domain":false,"tickSize":3}}}},
  {"data":{"values":[{}]},"mark":{"type":"rule","color":"#3333ff","strokeWidth":1.5},"encoding":{"y":{"datum":20,"axis":null}}},
  {"data":{"values":[{}]},"mark":{"type":"text","text":"R.S.I. (14)","color":"#000"},"encoding":{"x":{"datum":{"year":2010,"month":2,"date":10,"utc":true},
    "axis":{"orient":"bottom","values":[{"year":2010,"month":2,"date":20,"utc":true},{"year":2010,"month":3,"date":5,"utc":true},{"year":2010,"month":3,"date":18,"utc":true},{"year":2010,"month":4,"date":12,"utc":true},{"year":2010,"month":4,"date":24,"utc":true},{"year":2010,"month":5,"date":5,"utc":true},{"year":2010,"month":5,"date":17,"utc":true},{"year":2010,"month":5,"date":29,"utc":true},{"year":2010,"month":6,"date":9,"utc":true},{"year":2010,"month":6,"date":20,"utc":true},{"year":2010,"month":7,"date":12,"utc":true},{"year":2010,"month":7,"date":24,"utc":true},{"year":2010,"month":8,"date":4,"utc":true},{"year":2010,"month":8,"date":16,"utc":true},{"year":2010,"month":8,"date":27,"utc":true},{"year":2010,"month":9,"date":8,"utc":true},{"year":2010,"month":9,"date":19,"utc":true},{"year":2010,"month":10,"date":12,"utc":true},{"year":2010,"month":10,"date":24,"utc":true},{"year":2010,"month":11,"date":4,"utc":true},{"year":2010,"month":11,"date":16,"utc":true},{"year":2010,"month":11,"date":27,"utc":true},{"year":2010,"month":12,"date":9,"utc":true},{"year":2010,"month":12,"date":20,"utc":true},{"year":2011,"month":1,"date":12,"utc":true},{"year":2011,"month":1,"date":24,"utc":true},{"year":2011,"month":2,"date":4,"utc":true},{"year":2011,"month":2,"date":16,"utc":true}],
     "labels":false,"domain":false,"tickSize":3}},
    "y":{"datum":90.6,"axis":null}}},
  {"data":{"values":[{}]},"mark":{"type":"text","text":"43.047","color":"#ff0000"},"encoding":{"x":{"datum":{"year":2010,"month":3,"date":23,"utc":true},"axis":null},"y":{"datum":90.6,"axis":null}}},
  {"data":{"values":[{}]},"mark":{"type":"text","text":"80 20","color":"#0000ff"},"encoding":{"x":{"datum":{"year":2010,"month":4,"date":20,"utc":true},"axis":null},"y":{"datum":90.6,"axis":null}}},
  {"data":{"values":[{}]},"mark":{"type":"text","text":"Created with","color":"#000"},"encoding":{"x":{"datum":{"year":2010,"month":2,"date":9,"utc":true},"axis":null},"y":{"datum":-70,"axis":null}}},
  {"data":{"values":[{}]},"mark":{"type":"text","text":"Next","color":"#000","fontWeight":"bold"},"encoding":{"x":{"datum":{"year":2010,"month":3,"date":28,"utc":true},"axis":null},"y":{"datum":-70,"axis":null}}},
  {"data":{"values":[{}]},"mark":{"type":"text","text":"VIEW","color":"#0e8a8a","fontWeight":"bold"},"encoding":{"x":{"datum":{"year":2010,"month":4,"date":15,"utc":true},"axis":null},"y":{"datum":-70,"axis":null}}},
  {"data":{"values":[{}]},"mark":{"type":"text","text":"(http://www.thenextview.com)","color":"#000"},"encoding":{"x":{"datum":{"year":2010,"month":5,"date":10,"utc":true},"axis":null},"y":{"datum":-70,"axis":null}}},
  {"data":{"values":[{}]},"mark":{"type":"rule","color":"#000","strokeWidth":3},"encoding":{"x":{"datum":{"year":2010,"month":2,"date":7,"utc":true},"axis":null},"y":{"datum":108.3,"axis":null},"y2":{"datum":-84}}}
 ]
}
]
}
